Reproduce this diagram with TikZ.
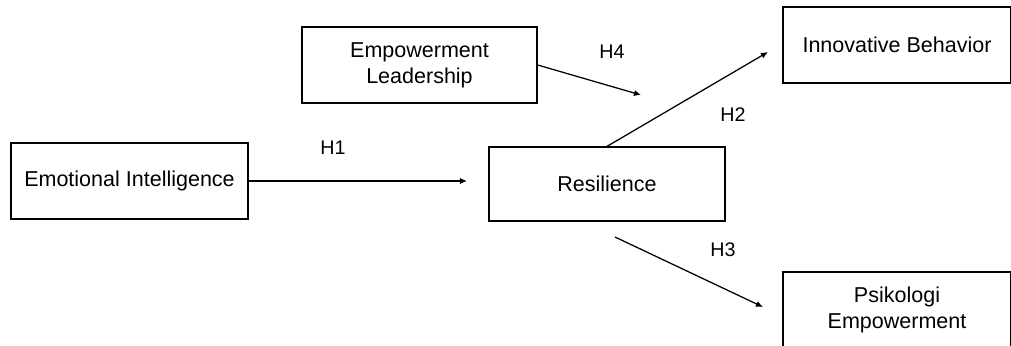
\documentclass[tikz,border=0pt]{standalone}
\usepackage{fontspec}
\setmainfont{Liberation Sans}
\usetikzlibrary{arrows.meta,positioning}

\begin{document}
\begin{tikzpicture}[x=0.025cm,y=-0.025cm,
  varbox/.style={draw,line width=0.9pt,inner sep=0pt,align=center,font=\fontsize{15.3}{18.5}\selectfont},
  hypo/.style={-{Latex[length=5pt,width=4.5pt]},line width=0.9pt},
  hlabel/.style={font=\fontsize{14}{17}\selectfont}]
\useasboundingbox (0,0) rectangle (1011,345);
\clip (0,0) rectangle (1011,345);
% variables
\node[varbox,minimum width=5.925cm,minimum height=1.9cm] (ei) at (129.5,181) {Emotional Intelligence};
\node[varbox,minimum width=5.9cm,minimum height=1.85cm] (res) at (607,184) {Resilience};
\node[varbox,minimum width=5.875cm,minimum height=1.9cm] (el) at (419.5,65) {Empowerment\\Leadership};
\node[varbox,minimum width=5.7cm,minimum height=1.9cm] (ib) at (897,45) {Innovative Behavior};
\node[varbox,minimum width=5.7cm,minimum height=1.9cm] (pe) at (897,310) {Psikologi\\Empowerment};
% free ends of the paths
\coordinate (h1end) at (467,181);
\coordinate (h4end) at (641,95);
\coordinate (h2end) at (768,52);
\coordinate (h3start) at (615,237);
\coordinate (h3end) at (763,307);
% hypotheses
\draw[hypo] (ei.east) -- (h1end);
\draw[hypo] (el.east) -- (h4end);
\draw[hypo] (res.north) -- (h2end);
\draw[hypo] (h3start) -- (h3end);
\node[hlabel] (h1) at (333,148) {H1};
\node[hlabel] (h4) at (612,52) {H4};
\node[hlabel] (h2) at (733,115) {H2};
\node[hlabel] (h3) at (723,250) {H3};
\end{tikzpicture}
\end{document}
